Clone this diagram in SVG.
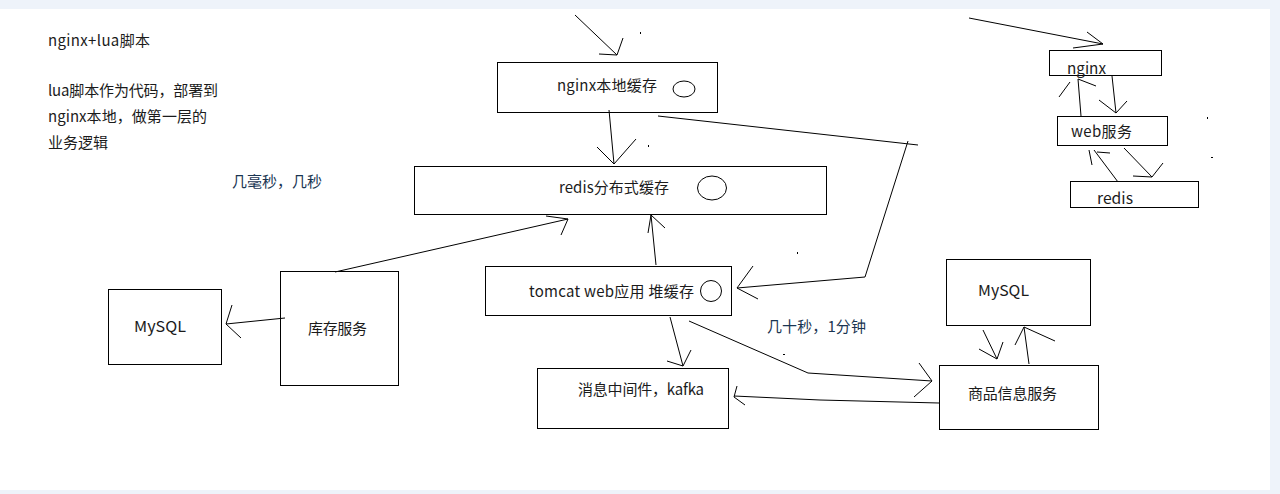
<svg xmlns="http://www.w3.org/2000/svg" width="1280" height="494" viewBox="0 0 1280 494">
<style>
.box{fill:none;stroke:#000;stroke-width:1;shape-rendering:crispEdges}
.ln{fill:none;stroke:#000;stroke-width:1}
.t{font-family:"Microsoft YaHei","Noto Sans CJK SC","Noto Sans",sans-serif;font-size:15px;fill:#1b1b1b}
.b{fill:#1a3552}
.dot{fill:#000}
</style>
<rect x="0" y="0" width="1280" height="494" fill="#eef3fa"/>
<rect x="0" y="9" width="1270" height="481" fill="#fff"/>

<g id="notes">
<text class="t" x="48" y="46" textLength="102">nginx+lua脚本</text>
<text class="t" x="48" y="96" textLength="170">lua脚本作为代码，部署到</text>
<text class="t" x="48" y="122" textLength="159">nginx本地，做第一层的</text>
<text class="t" x="48" y="148" textLength="60">业务逻辑</text>
<text class="t b" x="232" y="187" textLength="90">几毫秒，几秒</text>
<text class="t b" x="767" y="332" textLength="99">几十秒，1分钟</text>
</g>

<g id="nginx-cache">
<rect class="box" x="497.5" y="62.5" width="220" height="50"/>
<text class="t" x="557" y="91" textLength="100">nginx本地缓存</text>
<ellipse class="ln" cx="684" cy="89" rx="11" ry="8"/>
</g>

<g id="redis-cache">
<rect class="box" x="414.5" y="166.5" width="412" height="48"/>
<text class="t" x="559" y="193" textLength="110">redis分布式缓存</text>
<ellipse class="ln" cx="712" cy="188" rx="14.5" ry="12"/>
</g>

<g id="tomcat">
<rect class="box" x="485.5" y="266.5" width="246" height="49"/>
<text class="t" x="529" y="297" textLength="165">tomcat web应用 堆缓存</text>
<circle class="ln" cx="711" cy="291" r="10.5"/>
</g>

<g id="mysql-left">
<rect class="box" x="108.5" y="289.5" width="113" height="75"/>
<text class="t" x="134" y="332" textLength="52" lengthAdjust="spacingAndGlyphs">MySQL</text>
</g>

<g id="stock-service">
<rect class="box" x="280.5" y="271.5" width="118" height="114"/>
<text class="t" x="308" y="334" textLength="59">库存服务</text>
</g>

<g id="kafka">
<rect class="box" x="537.5" y="368.5" width="191" height="60"/>
<text class="t" x="578" y="395" textLength="126">消息中间件，kafka</text>
</g>

<g id="mysql-right">
<rect class="box" x="946.5" y="259.5" width="144" height="66"/>
<text class="t" x="978" y="296" textLength="51" lengthAdjust="spacingAndGlyphs">MySQL</text>
</g>

<g id="product-service">
<rect class="box" x="939.5" y="365.5" width="159" height="64"/>
<text class="t" x="968" y="399" textLength="89">商品信息服务</text>
</g>

<g id="mini-nginx">
<rect class="box" x="1049.5" y="50.5" width="112" height="25"/>
<text class="t" x="1067" y="74" textLength="39" lengthAdjust="spacingAndGlyphs">nginx</text>
</g>

<g id="mini-web">
<rect class="box" x="1057.5" y="116.5" width="110" height="29"/>
<text class="t" x="1071" y="137" textLength="61">web服务</text>
</g>

<g id="mini-redis">
<rect class="box" x="1070.5" y="181.5" width="128" height="26"/>
<text class="t" x="1097" y="204" textLength="36" lengthAdjust="spacingAndGlyphs">redis</text>
</g>

<g id="connectors">
<path class="ln" d="M575,15 L617,55 M623,38 L617,55 L599,54"/>
<path class="ln" d="M609,110 L614,164 M597,147 L614,164 L636,139"/>
<path class="ln" d="M658,116 L918,145 M908,141 L865,277 L737,288 M753,266 L737,288 L758,299"/>
<path class="ln" d="M656,265 L651,215 M648,233 L651,215 L665,228"/>
<path class="ln" d="M335,272 L568,219 M546,216 L568,219 L561,235"/>
<path class="ln" d="M285,318 L226,324 M232,305 L226,324 L241,338"/>
<path class="ln" d="M670,317 L683,366 M667,361 L683,366 L691,350"/>
<path class="ln" d="M689,321 L808,373 L932,381 M919,363 L932,381 L914,397"/>
<path class="ln" d="M939,403 L820,400 L734,396 M737,386 L734,397 L745,405"/>
<path class="ln" d="M983,330 L997,359 M979,349 L997,359 L1003,342"/>
<path class="ln" d="M1029,364 L1024,327 M1015,345 L1024,327 L1055,341"/>
<path class="ln" d="M969,18 L1103,44 M1087,32 L1103,44 L1073,48"/>
<path class="ln" d="M1112,76 L1116,113 M1099,100 L1116,113 L1127,101"/>
<path class="ln" d="M1081,116 L1078,79 L1096,86 M1059,97 L1070,82"/>
<path class="ln" d="M1124,148 L1152,177 M1133,176 L1152,177 L1163,163"/>
<path class="ln" d="M1118,182 L1094,150 M1097,152 L1110,153 M1089,150 L1092,165"/>
</g>

<g id="specks">
<rect class="dot" x="640" y="32" width="1" height="2"/>
<rect class="dot" x="648" y="145" width="1" height="2"/>
<rect class="dot" x="797" y="252" width="1" height="2"/>
<rect class="dot" x="783" y="354" width="2" height="1"/>
<rect class="dot" x="1207" y="117" width="1" height="2"/>
<rect class="dot" x="1211" y="157" width="2" height="1"/>
</g>
</svg>
